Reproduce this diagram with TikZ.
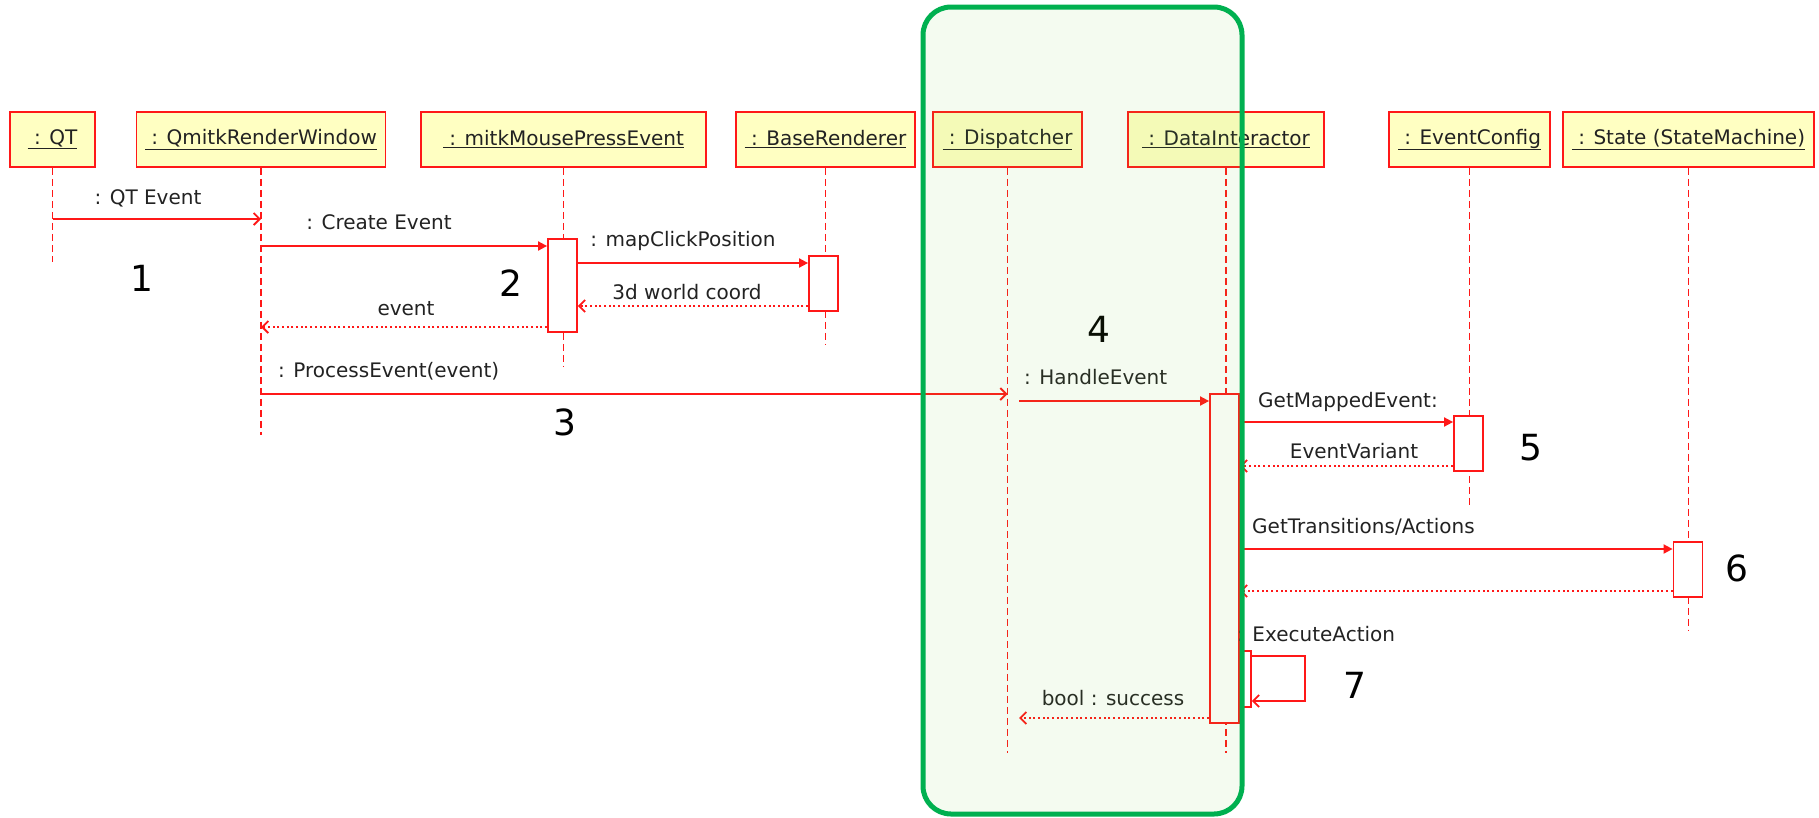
\documentclass[tikz,border=0pt]{standalone}
\usepackage{fontspec}
\setmainfont{DejaVu Sans}
\usetikzlibrary{arrows.meta}
\definecolor{umlred}{RGB}{255,24,24}
\definecolor{hdrfill}{RGB}{255,255,194}
\definecolor{framegreen}{RGB}{0,176,80}
\definecolor{framefill}{RGB}{120,200,60}
\definecolor{txt}{RGB}{34,34,34}
\begin{document}
\begin{tikzpicture}[x=1pt,y=-1pt,
  font=\fontsize{20}{24}\selectfont,
  hdr/.style={draw=umlred, fill=hdrfill, line width=1.8pt, minimum height=55pt, inner sep=0pt, text=txt},
  life/.style={draw=umlred, line width=1.8pt, dash pattern=on 7pt off 4pt},
  act/.style={draw=umlred, fill=white, line width=1.8pt, minimum width=29pt, inner sep=0pt},
  call/.style={draw=umlred, line width=1.8pt, -{Triangle[length=9pt,width=9pt]}},
  async/.style={draw=umlred, line width=1.8pt, -{Straight Barb[length=6pt,width=12pt]}},
  ret/.style={draw=umlred, line width=1.8pt, dash pattern=on 2pt off 2.7pt, -{Straight Barb[length=6pt,width=12pt]}},
  lbl/.style={text=txt, inner sep=0pt},
  num/.style={font=\fontsize{36}{40}\selectfont, text=black, inner sep=0pt},
]
\useasboundingbox (0,0) rectangle (1819,817);

% object headers
\node[hdr, minimum width=85pt]  (qt)   at (52.5,139.5)  {\underline{\ : QT}};
\node[hdr, minimum width=249pt] (qrw)  at (261,139.5)   {\underline{\ : QmitkRenderWindow}};
\node[hdr, minimum width=285pt] (mpe)  at (563.5,139.5) {\underline{\ : mitkMousePressEvent}};
\node[hdr, minimum width=179pt] (br)   at (825.5,139.5) {\underline{\ : BaseRenderer}};
\node[hdr, minimum width=149pt] (disp) at (1007.5,139.5){\underline{\ : Dispatcher}};
\node[hdr, minimum width=196pt] (di)   at (1226,139.5)  {\underline{\ : DataInteractor}};
\node[hdr, minimum width=161pt] (ec)   at (1469.5,139.5){\underline{\ : EventConfig}};
\node[hdr, minimum width=251pt] (st)   at (1688.5,139.5){\underline{\ : State (StateMachine)}};

% lifelines
\draw[life] (qt.south)   -- (qt.south   |- 0,262);
\draw[life] (qrw.south)  -- (qrw.south  |- 0,435);
\draw[life] (mpe.south)  -- (mpe.south  |- 0,367);
\draw[life] (br.south)   -- (br.south   |- 0,345);
\draw[life] (disp.south) -- (disp.south |- 0,753);
\draw[life] (di.south)   -- (di.south   |- 0,753);
\draw[life] (ec.south)   -- (ec.south   |- 0,505);
\draw[life] (st.south)   -- (st.south   |- 0,630);

% activation bars
\node[act, minimum height=93pt]  (a2) at (562.5,285.5) {};
\node[act, minimum height=55pt]  (a3) at (823.5,283.5) {};
\node[act, minimum height=329pt] (a4) at (1224.5,558.5) {};
\node[act, minimum height=55pt]  (a5) at (1468.5,443.5) {};
\node[act, minimum height=55pt]  (a6) at (1688,569.5) {};
\node[act, minimum width=12pt, minimum height=56pt] (a7) at (1245,679) {};
\coordinate (hstart) at (1019,401);
\coordinate (hend)   at (1019,718);

% messages
\draw[async] (qt.south |- 0,219) -- (qrw.south |- 0,219);
\draw[call]  (qrw.south |- 0,246) -- (a2.west |- 0,246);
\draw[call]  (a2.east |- 0,263) -- (a3.west |- 0,263);
\draw[ret]   (a3.west |- 0,306) -- (a2.east |- 0,306);
\draw[ret]   (a2.west |- 0,327) -- (qrw.south |- 0,327);
\draw[async] (qrw.south |- 0,394) -- (disp.south |- 0,394);
\draw[call]  (hstart) -- (a4.west |- hstart);
\draw[call]  (a4.east |- 0,422) -- (a5.west |- 0,422);
\draw[ret]   (a5.west |- 0,466) -- (a4.east |- 0,466);
\draw[call]  (a4.east |- 0,549) -- (a6.west |- 0,549);
\draw[ret]   (a6.west |- 0,591) -- (a4.east |- 0,591);
\draw[async] (a7.east |- 0,656) -- (1305,656) -- (1305,701) -- (a7.east |- 0,701);
\draw[ret]   (a4.west |- hend) -- (hend);

% message labels
\node[lbl, anchor=base]      at (148,204)  {: QT Event};
\node[lbl, anchor=base]      at (379,229)  {: Create Event};
\node[lbl, anchor=base]      at (683,246)  {: mapClickPosition};
\node[lbl, anchor=base]      at (687,299)  {3d world coord};
\node[lbl, anchor=base]      at (406,315)  {event};
\node[lbl, anchor=base west] at (278,377)  {: ProcessEvent(event)};
\node[lbl, anchor=base west] at (1024,384) {: HandleEvent};
\node[lbl, anchor=base west] at (1258,407) {GetMappedEvent:};
\node[lbl, anchor=base]      at (1354,458) {EventVariant};
\node[lbl, anchor=base west] at (1252,533) {GetTransitions/Actions};
\node[lbl, anchor=base west] at (1237,641) {: ExecuteAction};
\node[lbl, anchor=base]      at (1113,705) {bool : success};

% step numbers
\node[num] at (142,278)  {1};
\node[num] at (511,283)  {2};
\node[num] at (565,422)  {3};
\node[num] at (1099,329) {4};
\node[num] at (1531,448) {5};
\node[num] at (1737,568) {6};
\node[num] at (1355,685) {7};

% highlighted region
\draw[draw=framegreen, line width=5pt, fill=framefill, fill opacity=0.08, rounded corners=28pt]
  (923,7) rectangle (1242,814);
\end{tikzpicture}
\end{document}
